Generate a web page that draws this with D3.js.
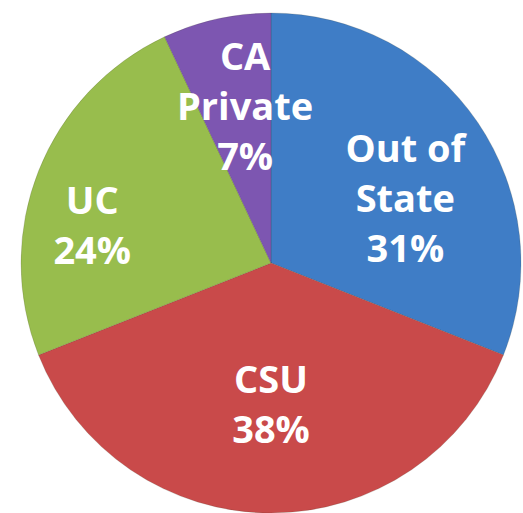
<!DOCTYPE html>
<html>
<head>
<meta charset="utf-8">
<script src="https://cdn.jsdelivr.net/npm/d3@7"></script>
<style>
  html, body { margin: 0; padding: 0; background: #fff; }
  svg { display: block; }
</style>
</head>
<body>
<div id="chart"></div>
<script>
// Data
const categories = ['Out of State', 'CSU', 'UC', 'CA Private']
const shares = [31, 38, 24, 7]
const labelLines = [['Out of', 'State', '31%'], ['CSU', '38%'], ['UC', '24%'], ['CA', 'Private', '7%']]

const colors = ['#3f7dc6', '#c94a4a', '#98bd4d', '#7d56b1']
// small nudges so labels sit where the original put them
const labelNudge = [[2, 26], [0, -18], [-30, 22], [9, 0]]

const width = 523
const height = 513
const cx = 271
const cy = 263
const radius = 250

const svg = d3.select('#chart').append('svg')
  .attr('width', width).attr('height', height)

const g = svg.append('g').attr('transform', `translate(${cx},${cy})`)

const pie = d3.pie().sort(null).value(d => d)
const arcs = pie(shares)

const arc = d3.arc().innerRadius(0).outerRadius(radius)
const labelArc = d3.arc().innerRadius(radius * 0.64).outerRadius(radius * 0.64)

g.selectAll('path').data(arcs).join('path')
  .attr('d', arc)
  .attr('fill', (d, i) => colors[i])
  .attr('stroke', 'rgba(60,60,40,0.18)')
  .attr('stroke-width', 1)

const lineH = 50

arcs.forEach((d, i) => {
  const [lx, ly] = labelArc.centroid(d)
  const lines = labelLines[i]
  const x = lx + labelNudge[i][0]
  const y = ly + labelNudge[i][1]
  const t = g.append('text')
    .attr('text-anchor', 'middle')
    .attr('fill', '#fff')
    .style('font-family', '"Open Sans", sans-serif')
    .style('font-weight', '700')
    .style('font-size', '38px')
  lines.forEach((s, j) => {
    t.append('tspan')
      .attr('x', x)
      .attr('y', y + (j - (lines.length - 1) / 2) * lineH + 13)
      .text(s)
  })
})
</script>
</body>
</html>
